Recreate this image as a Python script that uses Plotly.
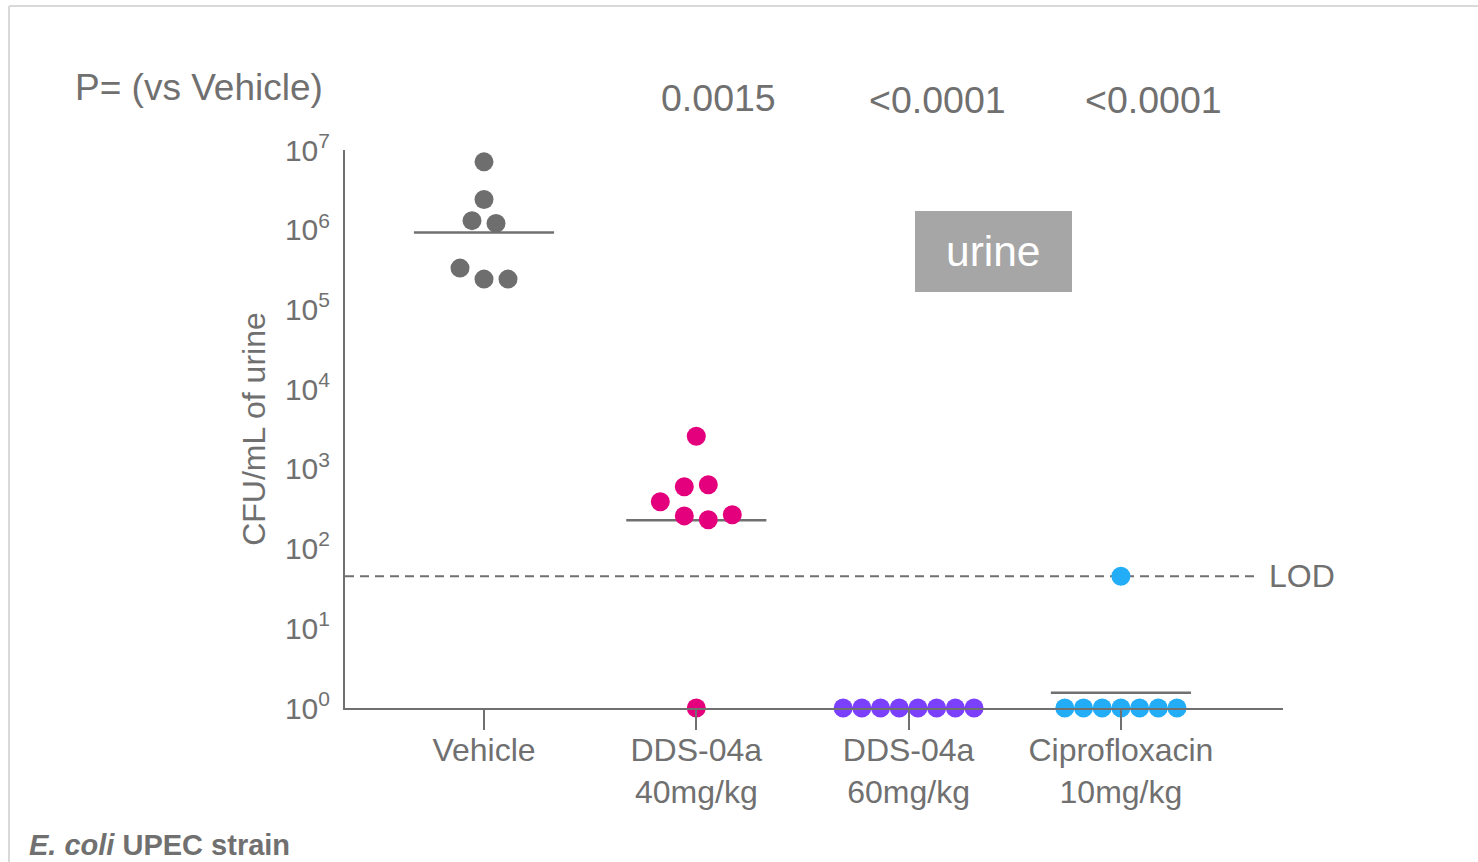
import numpy as np
import plotly.graph_objects as go

# ---------------- data ----------------
categories = ["Vehicle", "DDS-04a<br>40mg/kg", "DDS-04a<br>60mg/kg", "Ciprofloxacin<br>10mg/kg"]
vehicle = [7.1e6, 2.4e6, 1.3e6, 1.2e6, 3.3e5, 2.4e5, 2.4e5]
dds40 = [2570, 596, 631, 387, 257, 230, 266, 1]
dds60 = [1, 1, 1, 1, 1, 1, 1, 1]
cipro = [45, 1, 1, 1, 1, 1, 1, 1]
medians = [9.2e5, 226, 1, 1.55]
lod = 45
p_values = ["", "0.0015", "<0.0001", "<0.0001"]
colors = ["#6e6e6e", "#e4007c", "#7b40fb", "#22adf6"]

# ---------------- layout geometry ----------------
W, H = 1478, 862
L, R, T, B = 345, 195, 150, 154
PW, PH = W - L - R, H - T - B
XMIN, XMAX = -0.6547, 3.7635
PX_PER_CAT = PW / (XMAX - XMIN)
GRAY = "#707070"
FONT = "Liberation Sans, Arial, sans-serif"


def px_x(px):
    return (px - L) / PW


def px_y(py):
    return (H - B - py) / PH


def swarm(center, vals, t=0.25):
    """Simple row-based beeswarm: points within t decades share a row."""
    logs = np.log10(np.asarray(vals, dtype=float))
    order = np.argsort(logs, kind="stable")
    rows, cur, base = [], [], None
    for i in order:
        if cur and logs[i] - base > t:
            rows.append(cur)
            cur = []
        if not cur:
            base = logs[i]
        cur.append(i)
    rows.append(cur)
    xs = np.zeros(len(vals))
    for r in rows:
        r = sorted(r)
        same = np.ptp(logs[r]) < 1e-9
        sp = (18.7 if same else 24.0) / PX_PER_CAT
        n = len(r)
        for k, i in enumerate(r):
            xs[i] = center + (k - (n - 1) / 2) * sp
    return xs


fig = go.Figure()

groups = [vehicle, dds40, dds60, cipro]
# median lines
for ci, m in enumerate(medians):
    fig.add_trace(go.Scatter(
        x=[ci - 0.33, ci + 0.33], y=[m, m], mode="lines",
        line=dict(color=GRAY, width=2.5), cliponaxis=False,
        hoverinfo="skip", showlegend=False))

# LOD line
fig.add_trace(go.Scatter(
    x=[XMIN, 3.627], y=[lod, lod], mode="lines",
    line=dict(color=GRAY, width=2, dash="9px,6px"),
    hoverinfo="skip", showlegend=False))

# points
for ci, vals in enumerate(groups):
    fig.add_trace(go.Scatter(
        x=swarm(ci, vals), y=vals, mode="markers",
        marker=dict(size=19, color=colors[ci], line=dict(width=0)),
        cliponaxis=False, showlegend=False))

annotations = [
    dict(x=px_x(73), y=px_y(87), xref="paper", yref="paper", xanchor="left", yanchor="middle",
         text="P= (vs Vehicle)", showarrow=False, font=dict(size=37, color=GRAY, family=FONT)),
    dict(x=3.689, y=np.log10(lod), xref="x", yref="y", xanchor="left", yanchor="middle",
         text="LOD", showarrow=False, font=dict(size=32, color=GRAY, family=FONT)),
    dict(x=px_x(27), y=px_y(845), xref="paper", yref="paper", xanchor="left", yanchor="middle",
         text="<b><i>E. coli</i> UPEC strain</b>", showarrow=False,
         font=dict(size=29, color=GRAY, family=FONT)),
    dict(x=px_x(993.5), y=px_y(251.5), xref="paper", yref="paper", xanchor="center", yanchor="middle",
         text="urine", showarrow=False, font=dict(size=42.5, color="white", family=FONT)),
]
p_px = [None, (718, 98), (937, 100), (1153, 100)]
for ci, p in enumerate(p_values):
    if p:
        annotations.append(dict(
            x=px_x(p_px[ci][0]), y=px_y(p_px[ci][1]), xref="paper", yref="paper",
            xanchor="center", yanchor="middle", text=p, showarrow=False,
            font=dict(size=37.5, color=GRAY, family=FONT)))

shapes = [
    dict(type="rect", xref="paper", yref="paper", x0=px_x(915), x1=px_x(1072),
         y0=px_y(292), y1=px_y(211), fillcolor="#a6a6a6", line=dict(width=0), layer="below"),
    dict(type="line", xref="paper", yref="paper", x0=px_x(9), x1=px_x(W + 5),
         y0=px_y(6), y1=px_y(6), line=dict(color="#d9d9d9", width=2)),
    dict(type="line", xref="paper", yref="paper", x0=px_x(9), x1=px_x(9),
         y0=px_y(6), y1=px_y(H + 5), line=dict(color="#d9d9d9", width=2)),
]

fig.update_layout(
    width=W, height=H,
    margin=dict(l=L, r=R, t=T, b=B, autoexpand=False),
    paper_bgcolor="white", plot_bgcolor="white",
    font=dict(family=FONT, color=GRAY),
    annotations=annotations, shapes=shapes,
    xaxis=dict(range=[XMIN, XMAX], tickmode="array", tickvals=[0, 1, 2, 3],
               ticktext=categories, ticks="outside", ticklen=20, tickwidth=2,
               tickcolor=GRAY, showline=True, linecolor=GRAY, linewidth=2,
               showgrid=False, zeroline=False, ticklabelstandoff=-7,
               tickfont=dict(size=32, color=GRAY)),
    yaxis=dict(type="log", range=[0, 7], tickmode="array",
               tickvals=[10 ** k for k in range(8)],
               ticktext=["10<sup>%d</sup>" % k for k in range(8)],
               ticks="", showline=True, linecolor=GRAY, linewidth=2,
               showgrid=False, zeroline=False, ticklabelstandoff=7,
               tickfont=dict(size=30, color=GRAY),
               title=dict(text="CFU/mL of urine", standoff=10,
                          font=dict(size=32, color=GRAY))),
)

fig.write_html("out.html", config={"displayModeBar": False},
               post_script="document.body.style.margin='0px';")
